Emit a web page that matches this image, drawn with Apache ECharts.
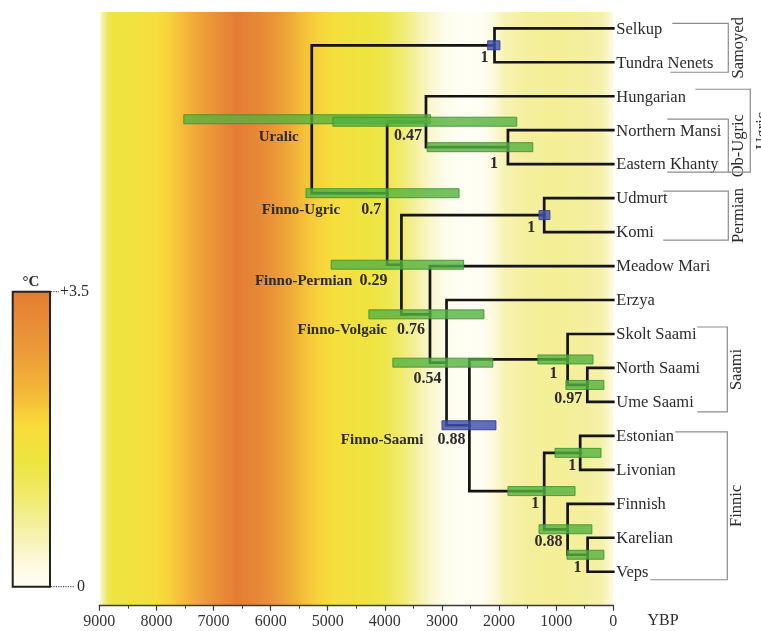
<!DOCTYPE html>
<html>
<head>
<meta charset="utf-8">
<script src="https://cdn.jsdelivr.net/npm/echarts@6/dist/echarts.min.js"></script>
<style>
  html, body { margin: 0; padding: 0; background: #ffffff; }
  #chart { width: 761px; height: 631px; }
</style>
</head>
<body>
<div id="chart"></div>
<script>
// ---- Languages (tree tips, top to bottom) ----
const leaves = ['Selkup', 'Tundra Nenets', 'Hungarian', 'Northern Mansi', 'Eastern Khanty',
  'Udmurt', 'Komi', 'Meadow Mari', 'Erzya', 'Skolt Saami', 'North Saami', 'Ume Saami',
  'Estonian', 'Livonian', 'Finnish', 'Karelian', 'Veps'];

// ---- Internal nodes ----
const nodeIds = ['uralic', 'samoyed', 'finnoUgric', 'ugric', 'obUgric', 'finnoPermian', 'permian',
  'finnoVolgaic', 'volgaFinnic', 'finnoSaami', 'saami', 'northUme', 'finnic', 'estLiv',
  'finKarVeps', 'karVeps'];
const nodeChildren = [
  ['samoyed', 'finnoUgric'],
  ['Selkup', 'Tundra Nenets'],
  ['ugric', 'finnoPermian'],
  ['Hungarian', 'obUgric'],
  ['Northern Mansi', 'Eastern Khanty'],
  ['permian', 'finnoVolgaic'],
  ['Udmurt', 'Komi'],
  ['Meadow Mari', 'volgaFinnic'],
  ['Erzya', 'finnoSaami'],
  ['saami', 'finnic'],
  ['Skolt Saami', 'northUme'],
  ['North Saami', 'Ume Saami'],
  ['estLiv', 'finKarVeps'],
  ['Estonian', 'Livonian'],
  ['Finnish', 'karVeps'],
  ['Karelian', 'Veps']
];
// Node ages, years before present
const nodeAge   = [5280, 2080, 3960, 3280, 1845, 3710, 1210, 3210, 2920, 2520,  800, 455, 1210, 580,  800, 450];
// 95% HPD interval of each node age (older bound, younger bound)
const hpdOld    = [7520, 2200, 5380, 4910, 3260, 4940, 1300, 4280, 3860, 3000, 1320, 830, 1845, 1020, 1300, 810];
const hpdYoung  = [3200, 1985, 2700, 1690, 1410, 2620, 1110, 2265, 2110, 2055,  355, 165,  670,  215,  375, 165];
// Calibrated nodes (drawn blue)
const calibrated = ['samoyed', 'permian', 'finnoSaami'];
// Posterior support and clade names
const posterior = [null, '1', '0.7', '0.47', '1', '0.29', '1', '0.76', '0.54', '0.88', '1', '0.97', '1', '1', '0.88', '1'];
const cladeName = ['Uralic', null, 'Finno-Ugric', null, null, 'Finno-Permian', null, 'Finno-Volgaic', null, 'Finno-Saami',
  null, null, null, null, null, null];

// ---- Right-side groupings (first leaf, last leaf) ----
const groupNames = ['Samoyed', 'Ob-Ugric', 'Ugric', 'Permian', 'Saami', 'Finnic'];
const groupFirst = [0, 3, 2, 5, 9, 12];
const groupLast  = [1, 4, 4, 6, 11, 16];

// ---- Holocene temperature anomaly (°C) along the time axis ----
const tempYear = [9000, 8950, 8850, 8750, 8300, 8000, 7800, 7500, 7200, 6900, 6600, 6300, 6000, 5700, 5400, 5150,
  4900, 4500, 4100, 3800, 3500, 3200, 2900, 2600, 2300, 2100, 1900, 1500, 1000, 500, 200, 0];
const tempC = [0.0, 0.6, 1.3, 1.5, 1.6, 1.8, 2.0, 2.3, 2.7, 3.1, 3.5, 3.3, 3.0, 2.6, 2.2, 2.0,
  1.8, 1.6, 1.45, 1.2, 0.8, 0.4, 0.1, 0.0, 0.05, 0.3, 0.6, 0.75, 0.8, 0.75, 0.65, 0.2];

// Colour scale for temperature (0 .. +3.5 °C)
const scaleTemp  = [0, 0.3, 0.7, 1.1, 1.5, 1.9, 2.3, 2.8, 3.5];
const scaleColor = ['#fffff6', '#fcf9dc', '#f5f0a4', '#f0ea6a', '#eee440', '#f8dc3c', '#f4b838', '#ec9a3a', '#e47c34'];

// Axis ticks
const yearMin = 0, yearMax = 9000, yearStep = 1000;

// ---------------------------------------------------------------
function hexRgb(h) { return [parseInt(h.substr(1, 2), 16), parseInt(h.substr(3, 2), 16), parseInt(h.substr(5, 2), 16)]; }
function tempColor(t) {
  if (t <= scaleTemp[0]) return scaleColor[0];
  for (let i = 1; i < scaleTemp.length; i++) {
    if (t <= scaleTemp[i]) {
      const f = (t - scaleTemp[i - 1]) / (scaleTemp[i] - scaleTemp[i - 1]);
      const a = hexRgb(scaleColor[i - 1]), b = hexRgb(scaleColor[i]);
      const c = a.map((v, k) => Math.round(v + (b[k] - v) * f));
      return 'rgb(' + c.join(',') + ')';
    }
  }
  return scaleColor[scaleColor.length - 1];
}

// Tree layout: tips on successive rows, internal nodes midway between their children
const rowOf = {};
leaves.forEach((n, i) => { rowOf[n] = i; });
const ageOf = {};
leaves.forEach(n => { ageOf[n] = 0; });
nodeIds.forEach((id, i) => { ageOf[id] = nodeAge[i]; });
function row(id) {
  if (rowOf[id] !== undefined) return rowOf[id];
  const k = nodeIds.indexOf(id);
  const r = (row(nodeChildren[k][0]) + row(nodeChildren[k][1])) / 2;
  rowOf[id] = r;
  return r;
}
nodeIds.forEach(row);

// Branch list: [parent age, parent row, child age, child row]
const branches = [];
nodeIds.forEach((id, k) => {
  nodeChildren[k].forEach(c => branches.push([ageOf[id], rowOf[id], ageOf[c], rowOf[c]]));
});
const hpdData = nodeIds.map((id, k) => [hpdOld[k], hpdYoung[k], rowOf[id], calibrated.indexOf(id) >= 0 ? 1 : 0]);

// Label placement for node annotations (pixel nudges from the node)
const labelNudge = {
  uralic:       { nx: -13, ny: 18 },
  samoyed:      { vx: -6,  vy: 13 },
  finnoUgric:   { vx: -6,  vy: 17, nx: -47, ny: 17 },
  ugric:        { vx: -4,  vy: 14 },
  obUgric:      { vx: -10, vy: 17 },
  finnoPermian: { vx: -14, vy: 16, nx: -49, ny: 16 },
  permian:      { vx: -9,  vy: 13 },
  finnoVolgaic: { vx: -5,  vy: 16, nx: -43, ny: 16 },
  volgaFinnic:  { vx: -5,  vy: 16 },
  finnoSaami:   { vx: -4,  vy: 15, nx: -46, ny: 15 },
  saami:        { vx: -10, vy: 14 },
  northUme:     { vx: -5,  vy: 14 },
  finnic:       { vx: -5,  vy: 13 },
  estLiv:       { vx: -4,  vy: 13 },
  finKarVeps:   { vx: -5,  vy: 13 },
  karVeps:      { vx: -6,  vy: 13 }
};

// Bracket geometry (pixels right of the 0 YBP line)
const bracketStyle = [
  { top: -5,  bot: 10, topX: 59, botX: 57, vx: 115, tx: 125 },
  { top: -11, bot: 8,  topX: 54, botX: 54, vx: 115, tx: 125 },
  { top: -7,  bot: 8,  topX: 82, botX: 115, vx: 137, tx: 149 },
  { top: -7,  bot: 8,  topX: 50, botX: 50, vx: 115, tx: 125 },
  { top: -7,  bot: 10, topX: 84, botX: 84, vx: 114, tx: 123 },
  { top: -4,  bot: 8,  topX: 62, botX: 37, vx: 114, tx: 123 }
];

const SERIF = '"Liberation Serif", "Times New Roman", serif';
const INK = '#2e2a2a';

const chart = echarts.init(document.getElementById('chart'), null, { renderer: 'canvas' });

const colorbarStops = scaleTemp.map((t, i) => ({ offset: 1 - t / 3.5, color: scaleColor[i] })).reverse();

chart.setOption({
  animation: false,
  backgroundColor: '#ffffff',
  grid: { left: 99.3, right: 147.7, top: 12, bottom: 25.3 },
  xAxis: {
    type: 'value', inverse: true, min: yearMin, max: yearMax, interval: yearStep, position: 'bottom',
    axisLine: { show: true, onZero: false, lineStyle: { color: '#3a3a3a', width: 1.3 } },
    axisTick: { show: true, inside: false, length: 5, lineStyle: { color: '#3a3a3a', width: 1.2 } },
    minorTick: { show: true, splitNumber: 2, length: 3, lineStyle: { color: '#3a3a3a', width: 1 } },
    splitLine: { show: false },
    axisLabel: { color: '#333', fontFamily: SERIF, fontSize: 16, margin: 8, formatter: v => String(v) }
  },
  yAxis: { type: 'value', inverse: true, min: -0.48, max: 17.0, show: false },
  graphic: [
    // temperature colour bar
    { type: 'rect', shape: { x: 12.7, y: 291.7, width: 37.3, height: 295 },
      style: { fill: new echarts.graphic.LinearGradient(0, 0, 0, 1, colorbarStops), stroke: '#222', lineWidth: 2 } },
    { type: 'text', x: 31, y: 282, style: { text: '°C', font: 'bold 15px ' + SERIF, fill: INK, align: 'center', verticalAlign: 'middle' } },
    { type: 'line', shape: { x1: 51, y1: 291.7, x2: 59, y2: 291.7 }, style: { stroke: '#555', lineWidth: 1.2, lineDash: [1.2, 1.2] } },
    { type: 'text', x: 60, y: 292, style: { text: '+3.5', font: '16px ' + SERIF, fill: INK, align: 'left', verticalAlign: 'middle' } },
    { type: 'line', shape: { x1: 51, y1: 586.7, x2: 75, y2: 586.7 }, style: { stroke: '#555', lineWidth: 1.2, lineDash: [1.2, 1.2] } },
    { type: 'text', x: 77, y: 587, style: { text: '0', font: '16px ' + SERIF, fill: INK, align: 'left', verticalAlign: 'middle' } },
    { type: 'text', x: 663, y: 621, style: { text: 'YBP', font: '16px ' + SERIF, fill: INK, align: 'center', verticalAlign: 'middle' } }
  ],
  series: [
    // temperature background
    {
      type: 'custom', silent: true, z: 0,
      data: [[yearMax, yearMin]],
      renderItem(params, api) {
        const cs = params.coordSys;
        const xl = api.coord([api.value(0), 0])[0];
        const xr = api.coord([api.value(1), 0])[0];
        const stops = tempYear.map((yr, i) => ({ offset: (yearMax - yr) / (yearMax - yearMin), color: tempColor(tempC[i]) }));
        return { type: 'rect', shape: { x: xl, y: cs.y, width: xr - xl, height: cs.height },
          style: { fill: new echarts.graphic.LinearGradient(0, 0, 1, 0, stops) } };
      }
    },
    // tree branches
    {
      type: 'custom', silent: true, z: 2,
      data: branches,
      renderItem(params, api) {
        const p = api.coord([api.value(0), api.value(1)]);
        const m = api.coord([api.value(0), api.value(3)]);
        const c = api.coord([api.value(2), api.value(3)]);
        return { type: 'polyline', shape: { points: [p, m, c] },
          style: { stroke: '#141414', lineWidth: 2.7, fill: null, lineJoin: 'miter', lineCap: 'square' } };
      }
    },
    // age uncertainty bars
    {
      type: 'custom', silent: true, z: 3,
      data: hpdData,
      renderItem(params, api) {
        const a = api.coord([api.value(0), api.value(2)]);
        const b = api.coord([api.value(1), api.value(2)]);
        const blue = api.value(3) === 1;
        const h = 9;
        return { type: 'rect', shape: { x: a[0], y: a[1] - h / 2, width: b[0] - a[0], height: h },
          style: blue ? { fill: 'rgba(62,78,172,0.82)', stroke: 'rgba(50,60,150,0.9)', lineWidth: 1 }
                      : { fill: 'rgba(84,178,62,0.8)', stroke: 'rgba(60,145,50,0.85)', lineWidth: 1 } };
      }
    },
    // node annotations
    {
      type: 'custom', silent: true, z: 4,
      data: nodeIds.map((id, k) => [ageOf[id], rowOf[id], k]),
      renderItem(params, api) {
        const k = api.value(2);
        const p = api.coord([api.value(0), api.value(1)]);
        const nud = labelNudge[nodeIds[k]];
        const kids = [];
        if (posterior[k]) {
          kids.push({ type: 'text', x: p[0] + nud.vx, y: p[1] + nud.vy,
            style: { text: posterior[k], font: 'bold 16px ' + SERIF, fill: INK, align: 'right', verticalAlign: 'middle' } });
        }
        if (cladeName[k]) {
          kids.push({ type: 'text', x: p[0] + nud.nx, y: p[1] + nud.ny,
            style: { text: cladeName[k], font: 'bold 15px ' + SERIF, fill: INK, align: 'right', verticalAlign: 'middle' } });
        }
        return { type: 'group', children: kids };
      }
    },
    // tip labels
    {
      type: 'custom', silent: true, z: 4,
      data: leaves.map((n, i) => [0, i]),
      renderItem(params, api) {
        const p = api.coord([api.value(0), api.value(1)]);
        return { type: 'text', x: p[0] + 3, y: p[1] + 1,
          style: { text: leaves[params.dataIndex], font: '16.5px ' + SERIF, fill: INK, align: 'left', verticalAlign: 'middle' } };
      }
    },
    // group brackets
    {
      type: 'custom', silent: true, z: 4,
      data: groupNames.map((g, i) => [groupFirst[i], groupLast[i], i]),
      renderItem(params, api) {
        const i = api.value(2);
        const s = bracketStyle[i];
        const x0 = api.coord([0, 0])[0];
        const yt = api.coord([0, api.value(0)])[1] + s.top;
        const yb = api.coord([0, api.value(1)])[1] + s.bot;
        const st = { stroke: '#8c8c8c', lineWidth: 1.2, fill: null };
        return { type: 'group', children: [
          { type: 'polyline', shape: { points: [[x0 + s.topX, yt], [x0 + s.vx, yt], [x0 + s.vx, yb], [x0 + s.botX, yb]] }, style: st },
          { type: 'text', x: x0 + s.tx, y: (yt + yb) / 2, rotation: Math.PI / 2,
            style: { text: groupNames[i], font: '16.5px ' + SERIF, fill: INK, align: 'center', verticalAlign: 'middle' } }
        ] };
      }
    }
  ]
});
</script>
</body>
</html>
